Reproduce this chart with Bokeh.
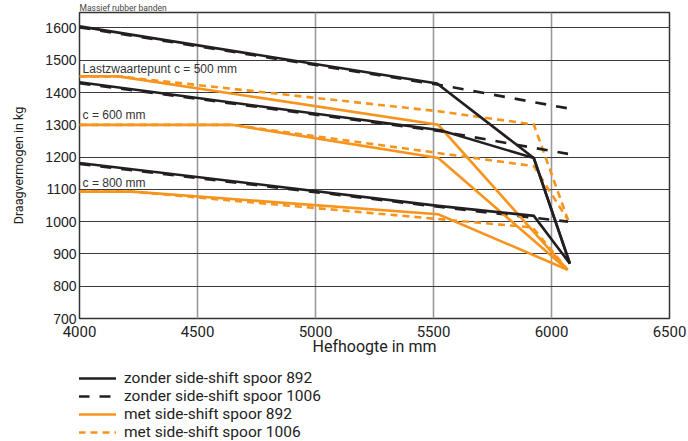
from bokeh.plotting import figure
from bokeh.layouts import column
from bokeh.models import Range1d, Legend, LegendItem, ColumnDataSource
from bokeh.core.properties import value
from bokeh.embed import file_html
from bokeh.resources import INLINE

# ---- data ----
x_ticks = [4000, 4500, 5000, 5500, 6000, 6500]
y_ticks = [700, 800, 900, 1000, 1100, 1200, 1300, 1400, 1500, 1600]

# zonder side-shift spoor 892 (black solid)
zonder892_c500_x = [4000, 5515, 5925, 6078]
zonder892_c500_y = [1605, 1428, 1197, 870]
zonder892_c600_x = [4000, 5530, 5925, 6078]
zonder892_c600_y = [1432, 1283, 1197, 870]
zonder892_c800_x = [4000, 5520, 5925, 6078]
zonder892_c800_y = [1182, 1049, 1018, 870]

# zonder side-shift spoor 1006 (black dashed)
zonder1006_c500_x = [4000, 5515, 6070]
zonder1006_c500_y = [1602, 1425, 1351]
zonder1006_c600_x = [4000, 5530, 6070]
zonder1006_c600_y = [1429, 1280, 1210]
zonder1006_c800_x = [4000, 5520, 6070]
zonder1006_c800_y = [1179, 1046, 1000]

# met side-shift spoor 892 (orange solid)
met892_c500_x = [4000, 4165, 5520, 6068]
met892_c500_y = [1450, 1450, 1300, 851]
met892_c600_x = [4000, 4647, 5520, 6068]
met892_c600_y = [1300, 1300, 1197, 851]
met892_c800_x = [4000, 4223, 5520, 6068]
met892_c800_y = [1093, 1093, 1023, 851]

# met side-shift spoor 1006 (orange dashed)
met1006_c500_x = [4000, 4165, 5520, 5925, 6070]
met1006_c500_y = [1450, 1450, 1342, 1301, 1005]
met1006_c600_x = [4000, 4647, 5925, 6070]
met1006_c600_y = [1300, 1300, 1172, 1005]
met1006_c800_x = [4000, 4223, 5920, 6068]
met1006_c800_y = [1093, 1093, 982, 851]

ann_x = [4013, 4013, 4013]
ann_y = [1473, 1330, 1120]
ann_text = ["Lastzwaartepunt c = 500 mm", "c = 600 mm", "c = 800 mm"]

series_labels = ["zonder side-shift spoor 892", "zonder side-shift spoor 1006",
                 "met side-shift spoor 892", "met side-shift spoor 1006"]

title_text = "Massief rubber banden"
x_label = "Hefhoogte in mm"
y_label = "Draagvermogen in kg"

# ---- styles ----
BLACK = "#231f20"
ORANGE = "#f7941d"
LW = 2.6
DASH_BLACK = "11 10"
DASH_ORANGE = "7 5"
P_HEIGHT = 364

p = figure(width=688, height=P_HEIGHT,
           x_range=Range1d(4000, 6500), y_range=Range1d(700, 1648),
           output_backend="svg", toolbar_location=None,
           min_border_left=79, min_border_right=19,
           min_border_top=10, min_border_bottom=P_HEIGHT - 318,
           background_fill_color="white", border_fill_color="white")

p.title.text = title_text
p.title.text_font = "Roboto"
p.title.text_font_size = "8.5px"
p.title.text_font_style = "normal"
p.title.text_color = "#444444"
p.title.standoff = 0
p.title.offset = 0

p.outline_line_color = "#333333"
p.outline_line_width = 1.5

p.xgrid.ticker = x_ticks
p.ygrid.ticker = y_ticks
p.xgrid.grid_line_color = "#9a9a9a"
p.xgrid.grid_line_width = 1.6
p.ygrid.grid_line_color = "#3a3a3a"
p.ygrid.grid_line_width = 1.2

p.xaxis.ticker = x_ticks
p.yaxis.ticker = y_ticks
for ax in (p.xaxis[0], p.yaxis[0]):
    ax.axis_line_color = None
    ax.major_tick_line_color = None
    ax.minor_tick_line_color = None
    ax.major_tick_out = 0
    ax.major_tick_in = 0
    ax.major_label_text_color = "#222222"
    ax.axis_label_text_color = "#222222"
    ax.axis_label_text_font_style = "normal"

p.xaxis.major_label_text_font = "Roboto"
p.xaxis.major_label_text_font_size = "15px"
p.xaxis.major_label_standoff = 7
p.xaxis.axis_label = x_label
p.xaxis.axis_label_text_font = "Roboto"
p.xaxis.axis_label_text_font_size = "16px"
p.xaxis.axis_label_standoff = -3

p.yaxis.major_label_text_font = "Liberation Sans"
p.yaxis.major_label_text_font_size = "14px"
p.yaxis.major_label_standoff = 3
p.yaxis.axis_label = y_label
p.yaxis.axis_label_text_font = "Roboto"
p.yaxis.axis_label_text_font_size = "12.5px"
p.yaxis.axis_label_standoff = 16

# ---- lines ----
series = [
    (series_labels[3], ORANGE, DASH_ORANGE,
     [(met1006_c500_x, met1006_c500_y), (met1006_c600_x, met1006_c600_y), (met1006_c800_x, met1006_c800_y)]),
    (series_labels[1], BLACK, DASH_BLACK,
     [(zonder1006_c500_x, zonder1006_c500_y), (zonder1006_c600_x, zonder1006_c600_y), (zonder1006_c800_x, zonder1006_c800_y)]),
    (series_labels[2], ORANGE, "solid",
     [(met892_c500_x, met892_c500_y), (met892_c600_x, met892_c600_y), (met892_c800_x, met892_c800_y)]),
    (series_labels[0], BLACK, "solid",
     [(zonder892_c500_x, zonder892_c500_y), (zonder892_c600_x, zonder892_c600_y), (zonder892_c800_x, zonder892_c800_y)]),
]
for lab, col, dash, curves in series:
    for xs, ys in curves:
        p.line(xs, ys, line_color=col, line_width=LW, line_dash=dash, line_join="miter")

# ---- annotations ----
src = ColumnDataSource(dict(x=ann_x, y=ann_y, t=ann_text))
p.text(x="x", y="y", text="t", source=src, text_font=value("Liberation Sans"),
       text_font_size="12px", text_color="#333333", text_baseline="alphabetic",
       text_align="left")

# ---- legend (separate strip below the chart) ----
lg = figure(width=688, height=441 - P_HEIGHT, x_range=Range1d(0, 1), y_range=Range1d(0, 1),
            output_backend="svg", toolbar_location=None,
            x_axis_type=None, y_axis_type=None,
            min_border_left=79, min_border_right=19,
            min_border_top=0, min_border_bottom=0,
            background_fill_color="white", border_fill_color="white")
lg.outline_line_color = None
lg.grid.visible = False

legend_order = [series[3], series[1], series[2], series[0]]
items = []
for lab, col, dash, curves in legend_order:
    xs, ys = curves[0]
    # same series, outside this strip's ranges: only its legend swatch shows
    r = lg.line(xs, ys, line_color=col, line_width=LW, line_dash=dash)
    items.append(LegendItem(label=lab, renderers=[r]))

legend = Legend(items=items, location=(-1, 0), orientation="vertical",
                glyph_width=38, glyph_height=18, label_height=18,
                label_standoff=8, spacing=0, padding=0, margin=0,
                border_line_color=None, background_fill_alpha=0,
                label_text_font="Roboto", label_text_font_size="15.5px",
                label_text_color="#222222")
lg.add_layout(legend, "center")

layout = column(p, lg, spacing=0)
open("out.html", "w").write(file_html(layout, INLINE))
